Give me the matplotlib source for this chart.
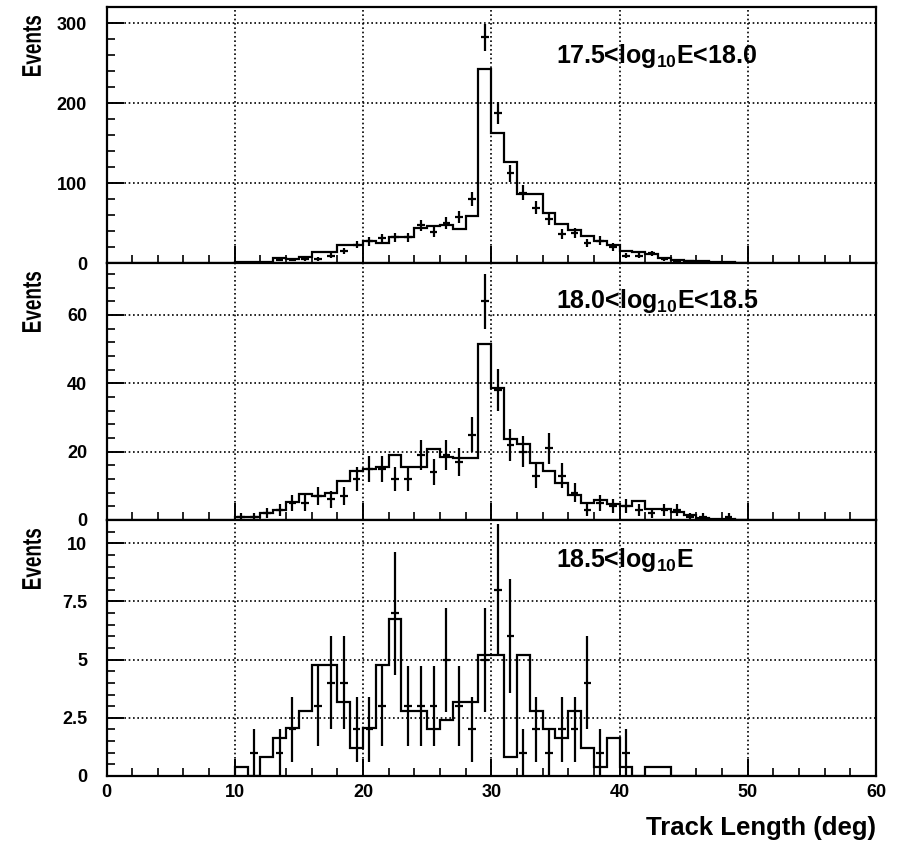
import numpy as np
import matplotlib
matplotlib.use("Agg")
import matplotlib.pyplot as plt
from matplotlib.ticker import MultipleLocator, FuncFormatter
from matplotlib.textpath import TextPath
from matplotlib.font_manager import FontProperties
from matplotlib.patches import PathPatch
from matplotlib.transforms import Affine2D

plt.rcParams['font.family'] = ['Liberation Sans', 'DejaVu Sans']
plt.rcParams['font.weight'] = 'bold'

# 1-degree bins from 10 to 50 deg
bin_edges = np.arange(10, 51, 1)

# 17.5 < log10 E < 18.0
sim_low = [1, 1, 1, 6, 5, 8, 14, 14, 23, 23,
           27, 25, 33, 32, 44, 46, 47, 42, 59, 242,
           162, 126, 86, 86, 62, 49, 41, 34, 28, 23,
           15, 14, 11, 6, 4, 3, 2, 1, 0.7, 0.4]
data_low = [0, 0, 0, 4, 4, 5, 5, 9, 15, 23,
            27, 31, 32, 32, 47, 39, 50, 57, 80, 282,
            187, 112, 88, 69, 55, 36, 38, 25, 28, 20,
            9, 9, 12, 5, 3, 2, 1, 0, 0, 0]

# 18.0 < log10 E < 18.5
sim_mid = [1, 1, 2, 3, 5.4, 7.5, 7, 8, 11.4, 14.2,
           14.9, 15.6, 19, 15.6, 15.6, 20.7, 18.5, 18.2, 18.2, 51.4,
           38.5, 23.7, 22.3, 16.6, 14.4, 10.7, 7.3, 4.9, 5.9, 4.6,
           4.2, 5.7, 3.3, 3.1, 2.4, 1.5, 0.5, 0.4, 0.4, 0]
data_mid = [1, 1, 2, 3, 5, 5, 7, 6, 7, 12,
            15, 15, 12, 12, 19, 14, 19, 17, 25, 64,
            38, 22, 20, 13, 21, 13, 8, 3, 5, 4,
            4, 3, 2, 3, 3, 1, 1, 0, 1, 0]

# 18.5 < log10 E
sim_high = [0.4, 0, 0.83, 1.62, 2.05, 2.8, 4.76, 4.76, 3.19, 1.2,
            2.05, 4.76, 6.74, 2.8, 2.8, 2.0, 2.4, 3.19, 3.19, 5.19,
            5.19, 0.83, 5.19, 2.8, 2.0, 1.62, 2.8, 1.19, 0.4, 1.62,
            0.4, 0, 0.4, 0.4, 0, 0, 0, 0, 0, 0]
data_high = [0, 1, 0, 1, 2, 0, 3, 4, 4, 2,
             2, 3, 7, 3, 3, 3, 5, 3, 2, 5,
             8, 6, 1, 2, 1, 2, 2, 4, 1, 0,
             1, 0, 0, 0, 0, 0, 0, 0, 0, 0]

labels = ['17.5<log$_{\\mathregular{10}}$E<18.0',
          '18.0<log$_{\\mathregular{10}}$E<18.5',
          '18.5<log$_{\\mathregular{10}}$E']

W, H = 899, 841
fig = plt.figure(figsize=(W / 100, H / 100), dpi=100)

x_left, x_right = 106.5, 876
panel_px = [(7, 263), (263, 520), (520, 776)]
ylims = [320, 75.2, 11.0]
ymajor = [100, 20, 2.5]
yminor = [20, 4, 0.5]
label_y = [0.781, 0.825, 0.816]

panels = [(sim_low, data_low), (sim_mid, data_mid), (sim_high, data_high)]
centers = 0.5 * (bin_edges[:-1] + bin_edges[1:])

# condensed "Events" title, built from a text path squeezed along its length
title_fp = FontProperties(family='Liberation Sans', weight='bold')
title_path = TextPath((0, 0), 'Events', size=27, prop=title_fp)
tb = title_path.get_extents()


def draw_title(top_px):
    # rotate 90 deg, squeeze to ~60 px long, right edge of text at top_px
    squeeze = 60.0 / tb.width
    tr = (Affine2D().translate(-tb.x1, -tb.y0)
          .scale(squeeze, 1.0)
          .rotate_deg(90)
          .translate(41, H - top_px))
    fig.patches.append(PathPatch(tr.transform_path(title_path),
                                 facecolor='black', edgecolor='none',
                                 transform=None, figure=fig))


for i, ((sim, data), (ptop, pbot)) in enumerate(zip(panels, panel_px)):
    ax = fig.add_axes([x_left / W, 1 - pbot / H,
                       (x_right - x_left) / W, (pbot - ptop) / H])

    ax.stairs(sim, bin_edges, color='black', linewidth=1.6, baseline=0)

    d = np.asarray(data, dtype=float)
    m = d > 0
    ax.errorbar(centers[m], d[m], yerr=np.sqrt(d[m]), xerr=0.3,
                fmt='none', ecolor='black', elinewidth=1.6, capsize=0)

    ax.set_xlim(0, 60)
    ax.set_ylim(0, ylims[i])
    ax.xaxis.set_major_locator(MultipleLocator(10))
    ax.xaxis.set_minor_locator(MultipleLocator(2))
    ax.yaxis.set_major_locator(MultipleLocator(ymajor[i]))
    ax.yaxis.set_minor_locator(MultipleLocator(yminor[i]))
    ax.yaxis.set_major_formatter(FuncFormatter(lambda v, p: '%g' % v))

    ax.grid(True, which='major', color='black',
            linestyle=(0, (1, 1.6)), linewidth=1.2)
    ax.tick_params(which='major', direction='in', length=12, width=1.4,
                   top=False, right=False, labelsize=13)
    ax.tick_params(which='minor', direction='in', length=6, width=1.2,
                   top=False, right=False)
    ax.tick_params(axis='y', which='major', pad=14)
    ax.tick_params(axis='x', which='major', pad=6)
    for s in ax.spines.values():
        s.set_linewidth(1.6)
    if i < 2:
        ax.tick_params(axis='x', labelbottom=False)

    ax.text(0.584, label_y[i], labels[i], transform=ax.transAxes,
            fontsize=18, fontweight='bold', ha='left', va='baseline')

    draw_title(ptop + 9)

fig.text(x_right / W, 1 - 835 / H, 'Track Length (deg)', ha='right',
         va='baseline', fontsize=18.5, fontweight='bold')

fig.savefig('out.png', dpi=100)
